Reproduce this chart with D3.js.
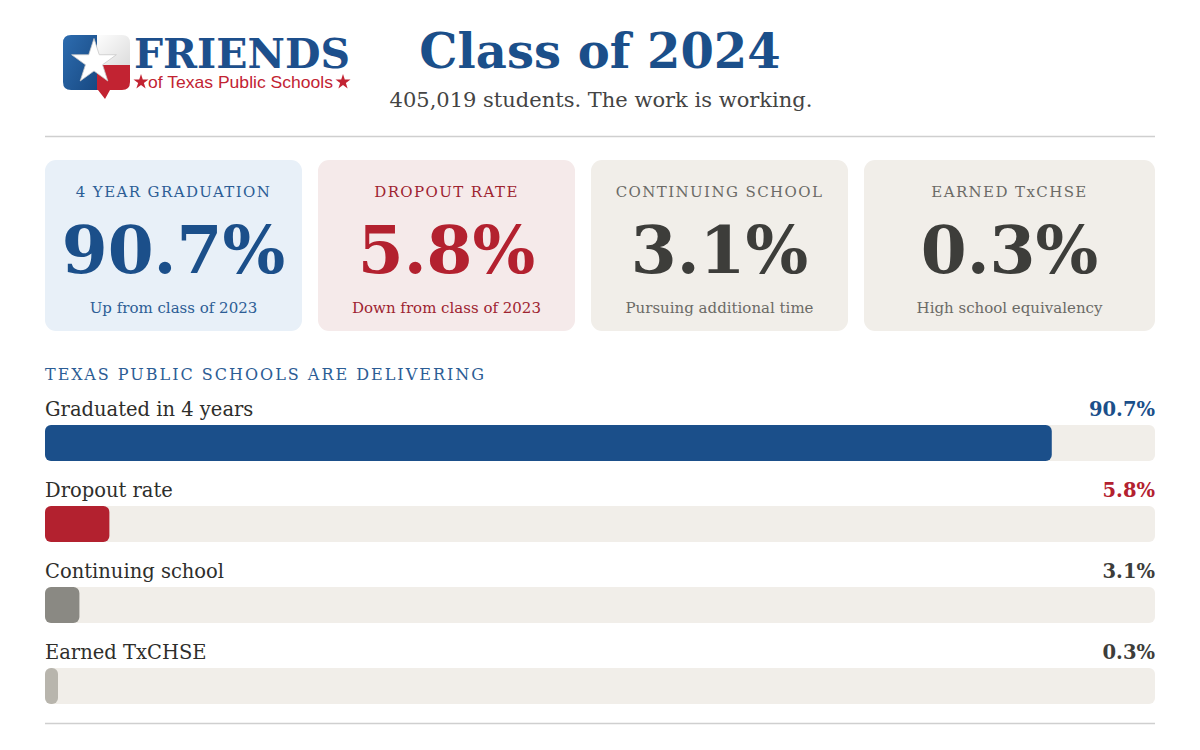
<!DOCTYPE html>
<html>
<head>
<meta charset="utf-8">
<script src="https://cdn.jsdelivr.net/npm/d3@7"></script>
<style>
  body { margin: 0; background: #fff; }
  svg { display: block; font-family: "DejaVu Serif", serif; }
</style>
</head>
<body>
<div id="chart"></div>
<script>
// headline numbers
const title = "Class of 2024";
const subtitle = "405,019 students. The work is working.";

// stat cards
const cardLabels = ["4 YEAR GRADUATION", "DROPOUT RATE", "CONTINUING SCHOOL", "EARNED TxCHSE"];
const cardValues = [90.7, 5.8, 3.1, 0.3];
const cardNotes = ["Up from class of 2023", "Down from class of 2023", "Pursuing additional time", "High school equivalency"];

// bar rows
const sectionTitle = "TEXAS PUBLIC SCHOOLS ARE DELIVERING";
const barLabels = ["Graduated in 4 years", "Dropout rate", "Continuing school", "Earned TxCHSE"];
const barValues = [90.7, 5.8, 3.1, 0.3];

const width = 1200, height = 750;
const left = 45, right = 1155;

const palette = {
  blue: "#1b4f8a", red: "#b3212f", dark: "#3d3d3a", grey: "#6b6a66",
  track: "#f1eee9"
};
const cardBg = ["#e8f0f8", "#f5eaea", "#f1eee9", "#f1eee9"];
const labelColor = ["#2c5d95", "#9e2330", "#6b6a66", "#6b6a66"];
const valueColor = [palette.blue, palette.red, palette.dark, palette.dark];
const noteColor = ["#2c5d95", "#9e2330", "#6b6a66", "#6b6a66"];
const barColor = [palette.blue, palette.red, "#8a8983", "#b8b5ad"];
const barValueColor = [palette.blue, palette.red, palette.dark, palette.dark];

const svg = d3.select("#chart").append("svg")
  .attr("width", width)
  .attr("height", height);

// ---- logo ----
const logo = svg.append("g");
const defs = svg.append("defs");
defs.append("clipPath").attr("id", "iconClip")
  .append("path")
  .attr("d", "M71,35 H122 Q130,35 130,43 V82 Q130,90 122,90 H110 L105,99 L98,90 H71 Q63,90 63,82 V43 Q63,35 71,35 Z");
const gBlue = defs.append("linearGradient").attr("id", "gBlue").attr("x1", 0).attr("y1", 0).attr("x2", 1).attr("y2", 1);
gBlue.append("stop").attr("offset", "0%").attr("stop-color", "#2f6fb3");
gBlue.append("stop").attr("offset", "100%").attr("stop-color", "#15457d");
const gWhite = defs.append("linearGradient").attr("id", "gWhite").attr("x1", 0).attr("y1", 0).attr("x2", 1).attr("y2", 1);
gWhite.append("stop").attr("offset", "0%").attr("stop-color", "#ffffff");
gWhite.append("stop").attr("offset", "100%").attr("stop-color", "#dcdcdc");

const icon = logo.append("g").attr("clip-path", "url(#iconClip)");
icon.append("rect").attr("x", 60).attr("y", 30).attr("width", 38).attr("height", 72).attr("fill", "url(#gBlue)");
icon.append("rect").attr("x", 97).attr("y", 30).attr("width", 36).attr("height", 35).attr("fill", "url(#gWhite)");
icon.append("rect").attr("x", 97).attr("y", 65).attr("width", 36).attr("height", 37).attr("fill", "#c22332");

const star = d3.symbol().type(d3.symbolStar).size(620);
logo.append("path").attr("d", star())
  .attr("transform", "translate(94,62)")
  .attr("fill", "#fff").attr("stroke", "#c9c9c9").attr("stroke-width", 0.8);

logo.append("text").attr("x", 134).attr("y", 68)
  .attr("textLength", 216).attr("lengthAdjust", "spacingAndGlyphs")
  .style("font-family", "DejaVu Serif").style("font-weight", 900)
  .style("font-size", "41px").attr("fill", "#1d4f8c")
  .text("FRIENDS");
const smallStar = d3.symbol().type(d3.symbolStar).size(70);
[141, 343].forEach(cx => logo.append("path").attr("d", smallStar())
  .attr("transform", `translate(${cx},82)`).attr("fill", "#c22332"));
logo.append("text").attr("x", 148).attr("y", 88)
  .attr("textLength", 185).attr("lengthAdjust", "spacingAndGlyphs")
  .style("font-family", "Liberation Sans, Arial, sans-serif")
  .style("font-size", "17px").attr("fill", "#c22332")
  .text("of Texas Public Schools");

// ---- title ----
svg.append("text").attr("x", 600).attr("y", 68)
  .attr("text-anchor", "middle")
  .style("font-size", "48px").style("font-weight", "bold")
  .attr("fill", palette.blue).text(title);
svg.append("text").attr("x", 601).attr("y", 107)
  .attr("text-anchor", "middle")
  .style("font-size", "21px").attr("fill", "#444")
  .text(subtitle);

svg.append("line").attr("x1", left).attr("x2", right)
  .attr("y1", 136.5).attr("y2", 136.5)
  .attr("stroke", "#cfcfcf").attr("stroke-width", 1.5);

// ---- cards ----
const gap = 16, cardW = 257, cardTop = 160, cardH = 171;
const cards = svg.append("g").selectAll("g")
  .data(cardLabels.map((label, i) => ({
    label, value: cardValues[i], note: cardNotes[i], i
  })))
  .join("g")
  .attr("transform", d => `translate(${left + d.i * (cardW + gap)},${cardTop})`);

const cw = d => d.i === cardLabels.length - 1 ? right - (left + d.i * (cardW + gap)) : cardW;

cards.append("rect")
  .attr("width", cw).attr("height", cardH).attr("rx", 11)
  .attr("fill", d => cardBg[d.i]);

cards.append("text")
  .attr("x", d => cw(d) / 2).attr("y", 37)
  .attr("text-anchor", "middle")
  .style("font-size", "15px").style("letter-spacing", "1.4px")
  .attr("fill", d => labelColor[d.i])
  .text(d => d.label);

cards.append("text")
  .attr("x", d => cw(d) / 2).attr("y", 113)
  .attr("text-anchor", "middle")
  .style("font-size", "66px").style("font-weight", "bold")
  .attr("fill", d => valueColor[d.i])
  .text(d => d3.format(".1f")(d.value) + "%");

cards.append("text")
  .attr("x", d => cw(d) / 2).attr("y", 153)
  .attr("text-anchor", "middle")
  .style("font-size", "15px")
  .attr("fill", d => noteColor[d.i])
  .text(d => d.note);

// ---- bars ----
svg.append("text").attr("x", left).attr("y", 380)
  .style("font-size", "16px").style("letter-spacing", "2px")
  .attr("fill", "#2c5d95").text(sectionTitle);

const x = d3.scaleLinear().domain([0, 100]).range([0, right - left]);
const y = d3.scaleBand().domain(barLabels).range([425, 749]).paddingInner(0);
const barH = 36;

const rows = svg.append("g").selectAll("g")
  .data(barLabels.map((label, i) => ({ label, value: barValues[i], i })))
  .join("g")
  .attr("transform", d => `translate(0,${y(d.label)})`);

rows.append("text").attr("x", left).attr("y", -9)
  .style("font-size", "19.5px").attr("fill", "#2e2e2b")
  .text(d => d.label);

rows.append("text").attr("x", right).attr("y", -9)
  .attr("text-anchor", "end")
  .style("font-size", "19.5px").style("font-weight", "bold")
  .attr("fill", d => barValueColor[d.i])
  .text(d => d3.format(".1f")(d.value) + "%");

rows.append("rect").attr("x", left).attr("width", x(100)).attr("height", barH)
  .attr("rx", 6).attr("fill", palette.track);

rows.append("rect").attr("x", left)
  .attr("width", d => Math.max(x(d.value), 13))
  .attr("height", barH).attr("rx", 6)
  .attr("fill", d => barColor[d.i]);

svg.append("line").attr("x1", left).attr("x2", right)
  .attr("y1", 723.5).attr("y2", 723.5)
  .attr("stroke", "#cfcfcf").attr("stroke-width", 1.5);
</script>
</body>
</html>
